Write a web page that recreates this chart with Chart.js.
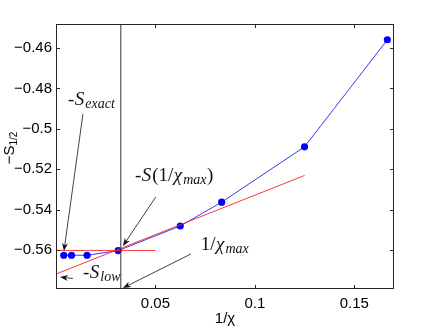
<!DOCTYPE html>
<html>
<head>
<meta charset="utf-8">
<script src="https://cdn.jsdelivr.net/npm/chart.js@4"></script>
<style>
  html, body { margin: 0; padding: 0; background: #fff; }
</style>
</head>
<body>
<canvas id="c" width="436" height="328"></canvas>
<script>
// measured points: 1/chi and -S_1/2
const invChi = [1/256, 1/128, 1/64, 1/32, 1/16, 1/12, 1/8, 1/6];
const halfS = [-0.5626, -0.5626, -0.5626, -0.5603, -0.5481, -0.5363, -0.5089, -0.4559];

// red lines
const flatX = [0, 0.05];
const flatY = [-0.5602, -0.5602];
const fitX = [0, 0.125];
const fitY = [-0.5719, -0.5231];

// vertical marker at 1/chi_max
const chiMaxX = 0.0326;

const xTicks = [0.05, 0.1, 0.15];
const xTickLabels = ['0.05', '0.1', '0.15'];
const yTicks = [-0.56, -0.54, -0.52, -0.5, -0.48, -0.46];
const yTickLabels = ['\u22120.56', '\u22120.54', '\u22120.52', '\u22120.5', '\u22120.48', '\u22120.46'];

const xMin = 0, xMax = 0.17;
const yMin = -0.5793, yMax = -0.4481;

const toPts = (xs, ys) => xs.map((v, i) => ({ x: v, y: ys[i] }));

const serif = '"Liberation Serif", "DejaVu Serif", serif';
const sans = '"Liberation Sans", Arial, sans-serif';

// pieces of a label: [text, kind] kind = r (roman), i (italic), s (subscript italic)
function drawMath(ctx, parts, px, py) {
  let cx = px;
  parts.forEach(([t, k]) => {
    if (k === 's') {
      ctx.font = 'italic 14px ' + serif;
      ctx.fillText(t, cx, py + 3);
    } else {
      ctx.font = (k === 'i' ? 'italic ' : '') + '19px ' + serif;
      ctx.fillText(t, cx, py);
    }
    cx += ctx.measureText(t).width + (k === 'i' ? 1 : 0.5);
  });
}

function arrow(ctx, x0, y0, x1, y1) {
  const ang = Math.atan2(y1 - y0, x1 - x0);
  const len = 8, wid = 3;
  ctx.beginPath();
  ctx.moveTo(x0, y0);
  ctx.lineTo(x1 - Math.cos(ang) * len * 0.7, y1 - Math.sin(ang) * len * 0.7);
  ctx.stroke();
  const bx = x1 - Math.cos(ang) * len, by = y1 - Math.sin(ang) * len;
  const nx = -Math.sin(ang) * wid, ny = Math.cos(ang) * wid;
  ctx.beginPath();
  ctx.moveTo(x1, y1);
  ctx.lineTo(bx + nx, by + ny);
  ctx.lineTo(x1 - Math.cos(ang) * len * 0.7, y1 - Math.sin(ang) * len * 0.7);
  ctx.lineTo(bx - nx, by - ny);
  ctx.closePath();
  ctx.fill();
}

// annotation anchors in data units
const notes = [
  { parts: [['-', 'r'], ['S', 'i'], ['exact', 's']], at: [0.00603, -0.4881], from: [0.01356, -0.4926], to: [0.0040, -0.5605] },
  { parts: [['-', 'r'], ['S', 'i'], ['(1/', 'r'], ['\u03c7', 'i'], ['max', 's'], [')', 'r']], at: [0.0397, -0.5258], from: [0.0502, -0.5337], to: [0.03365, -0.5580] },
  { parts: [['1/', 'r'], ['\u03c7', 'i'], ['max', 's']], at: [0.0728, -0.5600], from: [0.0678, -0.5620], to: [0.03365, -0.5788] },
  { parts: [['-', 'r'], ['S', 'i'], ['low', 's']], at: [0.01356, -0.5738], from: [0.00854, -0.5741], to: [0.0020, -0.5734] }
];

const frame = {
  id: 'frame',
  afterDatasetsDraw(chart) {
    const { ctx, chartArea: a, scales: { x, y } } = chart;
    ctx.save();
    ctx.strokeStyle = '#262626';
    ctx.lineWidth = 1;
    ctx.strokeRect(a.left + 0.5, a.top + 0.5, a.width - 1, a.height - 1);
    ctx.beginPath();
    xTicks.forEach(v => {
      const p = Math.round(x.getPixelForValue(v)) + 0.5;
      ctx.moveTo(p, a.bottom); ctx.lineTo(p, a.bottom - 4);
      ctx.moveTo(p, a.top); ctx.lineTo(p, a.top + 4);
    });
    yTicks.forEach(v => {
      const p = Math.round(y.getPixelForValue(v)) + 0.5;
      ctx.moveTo(a.left, p); ctx.lineTo(a.left + 4, p);
      ctx.moveTo(a.right, p); ctx.lineTo(a.right - 4, p);
    });
    ctx.stroke();

    // annotations
    ctx.fillStyle = '#111';
    ctx.strokeStyle = '#111';
    ctx.lineWidth = 0.8;
    ctx.textBaseline = 'alphabetic';
    notes.forEach(n => {
      drawMath(ctx, n.parts, x.getPixelForValue(n.at[0]), y.getPixelForValue(n.at[1]));
      arrow(ctx, x.getPixelForValue(n.from[0]), y.getPixelForValue(n.from[1]),
        x.getPixelForValue(n.to[0]), y.getPixelForValue(n.to[1]));
    });

    // axis labels
    ctx.fillStyle = '#000';
    ctx.font = '15px ' + sans;
    ctx.textAlign = 'center';
    ctx.fillText('1/\u03c7', (a.left + a.right) / 2, 323);
    ctx.save();
    ctx.translate(14, 148);
    ctx.rotate(-Math.PI / 2);
    ctx.textAlign = 'left';
    ctx.font = '15px ' + sans;
    const main = '\u2212S';
    const w = ctx.measureText(main).width;
    ctx.font = '10px ' + sans;
    const w2 = ctx.measureText('1/2').width;
    let sx = -(w + w2) / 2;
    ctx.font = '15px ' + sans;
    ctx.fillText(main, sx, 0);
    ctx.font = '10px ' + sans;
    ctx.fillText('1/2', sx + w, 3);
    ctx.restore();
    ctx.restore();
  }
};

new Chart(document.getElementById('c'), {
  type: 'scatter',
  data: {
    datasets: [
      {
        data: [{ x: chiMaxX, y: yMin }, { x: chiMaxX, y: yMax }],
        showLine: true, borderColor: '#333', borderWidth: 1, pointRadius: 0
      },
      {
        data: toPts(flatX, flatY),
        showLine: true, borderColor: '#ff2020', borderWidth: 0.9, pointRadius: 0
      },
      {
        data: toPts(fitX, fitY),
        showLine: true, borderColor: '#ff2020', borderWidth: 0.9, pointRadius: 0
      },
      {
        data: toPts(invChi, halfS),
        showLine: true, borderColor: '#2020ff', borderWidth: 0.9,
        pointRadius: 3.6, pointBackgroundColor: '#0000ff', pointBorderColor: '#0000ff', pointBorderWidth: 0
      }
    ]
  },
  options: {
    responsive: false,
    animation: false,
    devicePixelRatio: 1,
    layout: { padding: { top: 24, right: 42, left: 0, bottom: 0 } },
    plugins: { legend: { display: false }, tooltip: { enabled: false } },
    scales: {
      x: {
        type: 'linear', min: xMin, max: xMax,
        afterFit: s => { s.height = 39; },
        afterBuildTicks: s => { s.ticks = xTicks.map(v => ({ value: v })); },
        grid: { display: false, drawTicks: false },
        border: { display: false },
        ticks: {
          padding: 6, color: '#000', font: { family: sans, size: 15 },
          callback: (v, i) => xTickLabels[i]
        }
      },
      y: {
        type: 'linear', min: yMin, max: yMax,
        afterFit: s => { s.width = 56; },
        afterBuildTicks: s => { s.ticks = yTicks.map(v => ({ value: v })); },
        grid: { display: false, drawTicks: false },
        border: { display: false },
        ticks: {
          padding: 4, color: '#000', font: { family: sans, size: 15 },
          callback: (v, i) => yTickLabels[i]
        }
      }
    }
  },
  plugins: [frame]
});
</script>
</body>
</html>
